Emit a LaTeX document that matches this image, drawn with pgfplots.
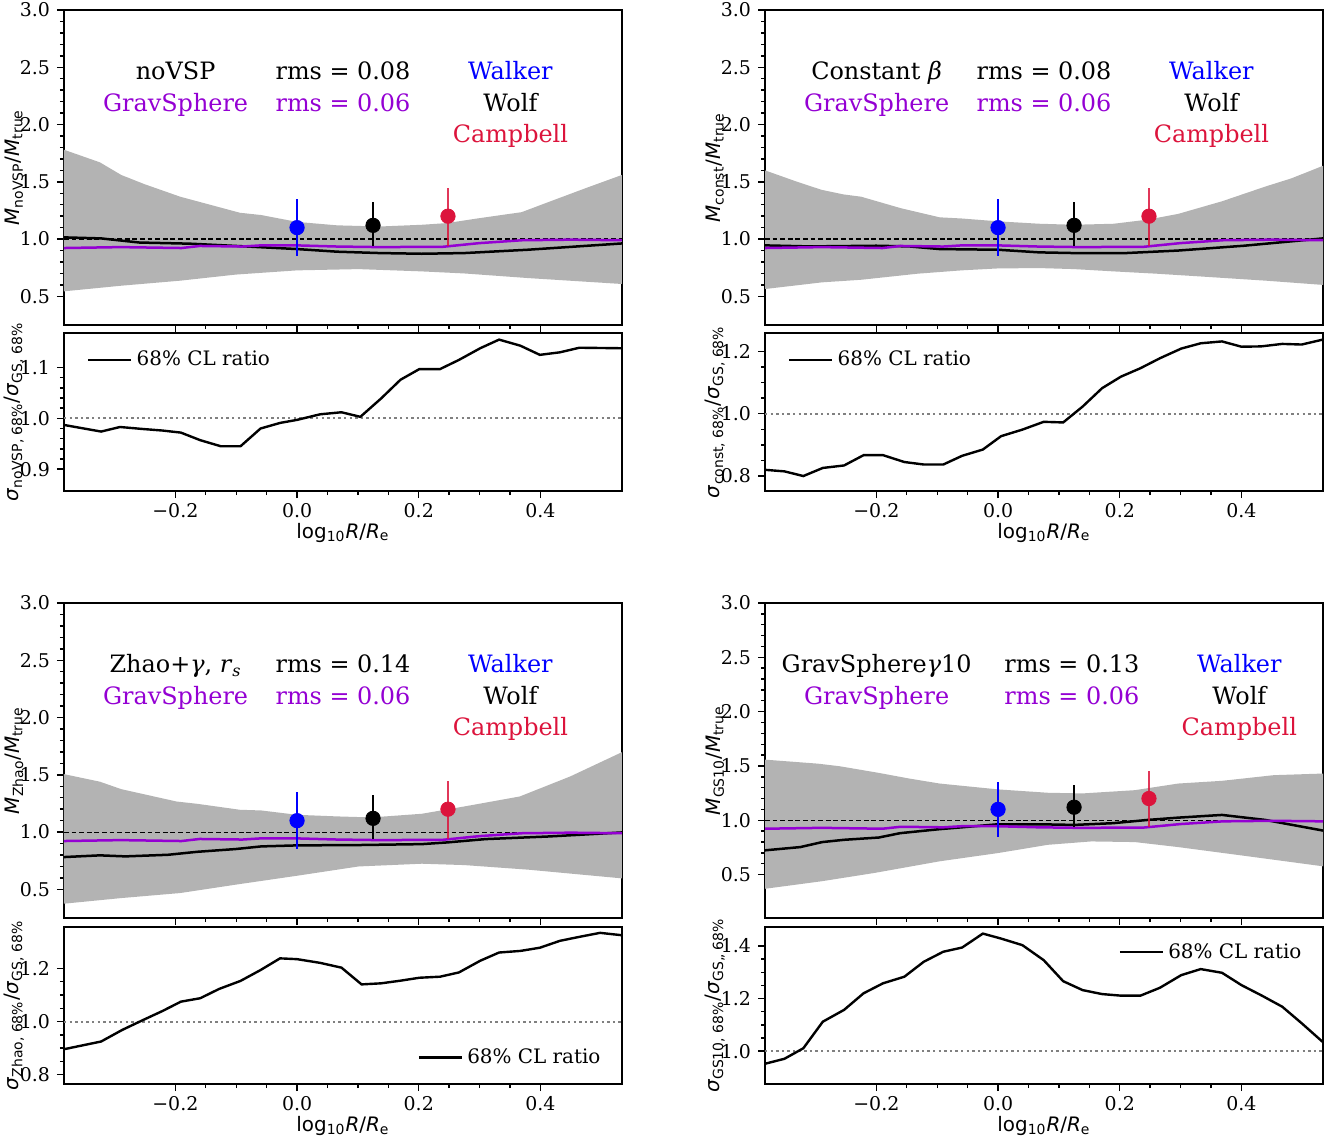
\documentclass[border=0pt]{standalone}
\usepackage{fontspec}
\setmainfont{DejaVu Serif}
\setsansfont{DejaVu Sans}
\usepackage{amsmath}
\usepackage{pgfplots}
\usepackage{pgfplotstable}
\pgfplotsset{compat=1.18}

\definecolor{gsviolet}{RGB}{148,0,211}
\definecolor{crim}{RGB}{220,20,60}
\definecolor{bandgray}{RGB}{179,179,179}
\definecolor{dotgray}{RGB}{128,128,128}

% GravSphere reference curve (same in every panel)
\pgfplotstableread{
x y
-0.383 0.922
-0.29 0.930
-0.19 0.922
-0.16 0.940
-0.09 0.935
-0.06 0.945
0.0 0.945
0.066 0.935
0.136 0.930
0.24 0.933
0.30 0.965
0.37 0.990
0.45 0.995
0.534 0.990
}\gsline

\newcommand{\annofont}{\fontsize{12}{14}\selectfont}
\newcommand{\tickfont}{\fontsize{9.5}{10}\selectfont}
\newcommand{\labfont}{\fontsize{10}{12}\selectfont}
\newcommand{\Msf}{\textsf{\textit{M}}}
\newcommand{\Ssf}{\textsf{\textit{σ}}}

\pgfplotsset{
  panel/.style={
    scale only axis, width=279bp,
    xmin=-0.383, xmax=0.534,
    axis line style={line width=1.3bp},
    tick align=outside, xtick pos=left, ytick pos=left,
    xtick={-0.2,0,0.2,0.4}, minor x tick num=3,
    major tick length=3.5bp, minor tick length=2bp,
    every tick/.append style={black, line width=0.7bp},
    tick label style={font=\tickfont},
    xticklabel style={yshift=1bp},
    label style={font=\labfont},
    ylabel style={at={(rel axis cs:0,0.5)}, anchor=center, yshift=25bp},
  },
  mainax/.style={panel, height=157.5bp,
    ymin=0.25, ymax=3.0,
    ytick={0.5,1,1.5,2,2.5,3}, yticklabels={0.5,1.0,1.5,2.0,2.5,3.0},
    minor y tick num=4, xticklabels={}},
  ratioax/.style={panel, height=79bp,
    xticklabels={−0.2,0.0,0.2,0.4},
    xlabel={\textsf{log}$_{\textsf{10}}$\textsf{\textit{R}/\textit{R}}$_{\textsf{e}}$},
    xlabel style={at={(rel axis cs:0.5,0)}, anchor=base, yshift=-23.5bp},
    legend style={draw=none, fill=none, font=\labfont},
    legend cell align=left,
    legend image code/.code={\draw[black, line width=1.3bp] (0bp,0bp) -- (21.5bp,0bp);}},
}

\newcommand{\refline}{\addplot[black, dashed, line width=0.6bp, dash pattern=on 2.4bp off 1.4bp] coordinates {(-0.383,1) (0.534,1)};}
\newcommand{\gsplot}{\addplot[gsviolet, line width=1.25bp] table[x=x,y=y] {\gsline};}
\newcommand{\errpts}{%
  \addplot[blue, only marks, mark=*, mark size=3.6bp,
    error bars/.cd, y dir=both, y explicit, error mark=none,
    error bar style={line width=1bp, blue}]
    coordinates {(0,1.10) += (0,0.25) -= (0,0.25)};
  \addplot[black, only marks, mark=*, mark size=3.6bp,
    error bars/.cd, y dir=both, y explicit, error mark=none,
    error bar style={line width=1bp, black}]
    coordinates {(0.1249,1.12) += (0,0.20) -= (0,0.18)};
  \addplot[crim, only marks, mark=*, mark size=3.6bp,
    error bars/.cd, y dir=both, y explicit, error mark=none,
    error bar style={line width=1bp, crim, opacity=0.85}]
    coordinates {(0.248,1.20) += (0,0.25) -= (0,0.26)};
}
\newcommand{\ratioref}{\addplot[dotgray, line width=1bp, dash pattern=on 1.2bp off 1.6bp, forget plot] coordinates {(-0.383,1) (0.534,1)};}

\begin{document}
\begin{tikzpicture}
\path[use as bounding box] (0,0) rectangle (668bp,-568.5bp);

%================ top left =================
\begin{axis}[mainax, at={(32bp,-5bp)}, anchor=north west,
  ylabel={$\Msf_{\textsf{noVSP}}\textsf{/}\Msf_{\textsf{true}}$}]
\addplot[fill=bandgray, draw=none] coordinates {
(-0.383,1.78) (-0.324,1.67) (-0.289,1.56) (-0.251,1.48) (-0.192,1.37) (-0.164,1.33)
(-0.094,1.23) (-0.059,1.21) (0,1.15) (0.066,1.12) (0.136,1.11) (0.205,1.125)
(0.247,1.14) (0.296,1.18) (0.369,1.235) (0.414,1.325) (0.477,1.45) (0.534,1.56)
(0.534,0.608) (0.379,0.66) (0.275,0.70) (0.205,0.718) (0.101,0.738) (0,0.727)
(-0.101,0.69) (-0.192,0.637) (-0.289,0.593) (-0.383,0.544)} -- cycle;
\refline
\addplot[black, line width=1.25bp] coordinates {
(-0.383,1.015) (-0.322,1.006) (-0.259,0.97) (-0.176,0.96) (-0.1,0.94) (0,0.913)
(0.066,0.89) (0.136,0.878) (0.205,0.872) (0.275,0.878) (0.379,0.907) (0.534,0.962)};
\gsplot
\errpts
\node[anchor=base, font=\annofont] at (rel axis cs:0.2,0.778) {noVSP};
\node[anchor=base, font=\annofont] at (rel axis cs:0.5,0.778) {rms = 0.08};
\node[anchor=base, font=\annofont, text=blue] at (rel axis cs:0.8,0.778) {Walker};
\node[anchor=base, font=\annofont, text=gsviolet] at (rel axis cs:0.2,0.678) {GravSphere};
\node[anchor=base, font=\annofont, text=gsviolet] at (rel axis cs:0.5,0.678) {rms = 0.06};
\node[anchor=base, font=\annofont] at (rel axis cs:0.8,0.678) {Wolf};
\node[anchor=base, font=\annofont, text=crim] at (rel axis cs:0.8,0.578) {Campbell};
\end{axis}

\begin{axis}[ratioax, at={(32bp,-166.5bp)}, anchor=north west,
  ymin=0.857, ymax=1.168, ytick={0.9,1.0,1.1}, yticklabels={0.9,1.0,1.1}, minor y tick num=4,
  ylabel={$\Ssf_{\textsf{noVSP, 68\%}}\textsf{/}\Ssf_{\textsf{GS, 68\%}}$},
  legend style={at={(0.03,0.83)}, anchor=west}]
\ratioref
\addplot[black, line width=1.2bp] coordinates {
(-0.383,0.987) (-0.322,0.974) (-0.291,0.983) (-0.253,0.979) (-0.221,0.976) (-0.191,0.972)
(-0.159,0.957) (-0.125,0.945) (-0.093,0.945) (-0.060,0.980) (-0.028,0.991) (0.0,0.997)
(0.038,1.008) (0.073,1.012) (0.104,1.003) (0.138,1.039) (0.170,1.076) (0.201,1.097)
(0.235,1.097) (0.266,1.115) (0.301,1.138) (0.332,1.155) (0.367,1.143) (0.399,1.125)
(0.432,1.130) (0.464,1.139) (0.534,1.138)};
\addlegendentry{68\% CL ratio}
\end{axis}

%================ top right =================
\begin{axis}[mainax, at={(382.5bp,-5bp)}, anchor=north west,
  ylabel={$\Msf_{\textsf{const}}\textsf{/}\Msf_{\textsf{true}}$}]
\addplot[fill=bandgray, draw=none] coordinates {
(-0.383,1.60) (-0.33,1.50) (-0.29,1.43) (-0.254,1.39) (-0.225,1.37) (-0.16,1.27)
(-0.096,1.19) (-0.06,1.18) (0,1.155) (0.068,1.134) (0.125,1.125) (0.19,1.134)
(0.246,1.17) (0.296,1.22) (0.368,1.33) (0.44,1.46) (0.482,1.53) (0.534,1.64)
(0.534,0.60) (0.44,0.637) (0.332,0.674) (0.26,0.698) (0.19,0.718) (0.125,0.738)
(0.068,0.747) (0,0.744) (-0.06,0.727) (-0.132,0.698) (-0.225,0.645) (-0.29,0.622)
(-0.383,0.564)} -- cycle;
\refline
\addplot[black, line width=1.25bp] coordinates {
(-0.383,0.945) (-0.31,0.936) (-0.20,0.942) (-0.146,0.936) (-0.096,0.913) (0,0.907)
(0.068,0.884) (0.125,0.878) (0.21,0.878) (0.296,0.90) (0.404,0.942) (0.534,1.006)};
\gsplot
\errpts
\node[anchor=base, font=\annofont] at (rel axis cs:0.2,0.778) {Constant \textit{β}};
\node[anchor=base, font=\annofont] at (rel axis cs:0.5,0.778) {rms = 0.08};
\node[anchor=base, font=\annofont, text=blue] at (rel axis cs:0.8,0.778) {Walker};
\node[anchor=base, font=\annofont, text=gsviolet] at (rel axis cs:0.2,0.678) {GravSphere};
\node[anchor=base, font=\annofont, text=gsviolet] at (rel axis cs:0.5,0.678) {rms = 0.06};
\node[anchor=base, font=\annofont] at (rel axis cs:0.8,0.678) {Wolf};
\node[anchor=base, font=\annofont, text=crim] at (rel axis cs:0.8,0.578) {Campbell};
\end{axis}

\begin{axis}[ratioax, at={(382.5bp,-166.5bp)}, anchor=north west,
  ymin=0.752, ymax=1.259, ytick={0.8,1.0,1.2}, yticklabels={0.8,1.0,1.2}, minor y tick num=3,
  ylabel={$\Ssf_{\textsf{const, 68\%}}\textsf{/}\Ssf_{\textsf{GS, 68\%}}$},
  legend style={at={(0.03,0.83)}, anchor=west}]
\ratioref
\addplot[black, line width=1.2bp] coordinates {
(-0.383,0.820) (-0.351,0.815) (-0.320,0.800) (-0.288,0.826) (-0.253,0.834) (-0.221,0.867)
(-0.189,0.867) (-0.154,0.845) (-0.122,0.837) (-0.090,0.837) (-0.059,0.865) (-0.025,0.885)
(0.005,0.928) (0.040,0.949) (0.075,0.974) (0.107,0.972) (0.139,1.023) (0.171,1.082)
(0.202,1.119) (0.234,1.146) (0.266,1.178) (0.301,1.209) (0.333,1.226) (0.368,1.232)
(0.400,1.215) (0.432,1.216) (0.467,1.224) (0.499,1.222) (0.534,1.238)};
\addlegendentry{68\% CL ratio}
\end{axis}

%================ bottom left =================
\begin{axis}[mainax, at={(32bp,-301.5bp)}, anchor=north west,
  ylabel={$\Msf_{\textsf{Zhao}}\textsf{/}\Msf_{\textsf{true}}$}]
\addplot[fill=bandgray, draw=none] coordinates {
(-0.383,1.506) (-0.324,1.44) (-0.289,1.375) (-0.198,1.267) (-0.164,1.247) (-0.094,1.195)
(-0.059,1.189) (0,1.151) (0.066,1.137) (0.122,1.128) (0.205,1.16) (0.275,1.224)
(0.366,1.311) (0.449,1.486) (0.534,1.698)
(0.534,0.596) (0.38,0.672) (0.275,0.712) (0.205,0.724) (0.101,0.70) (0,0.619)
(-0.101,0.541) (-0.192,0.468) (-0.289,0.424) (-0.383,0.375)} -- cycle;
\refline
\addplot[black, line width=1.25bp] coordinates {
(-0.383,0.782) (-0.324,0.797) (-0.282,0.788) (-0.212,0.802) (-0.164,0.828) (-0.101,0.852)
(-0.059,0.875) (0,0.884) (0.101,0.887) (0.205,0.895) (0.247,0.91) (0.31,0.939)
(0.414,0.962) (0.534,0.997)};
\gsplot
\errpts
\node[anchor=base, font=\annofont] at (rel axis cs:0.2,0.778) {Zhao+\textit{γ}, \textit{r}\textsubscript{\textit{s}}};
\node[anchor=base, font=\annofont] at (rel axis cs:0.5,0.778) {rms = 0.14};
\node[anchor=base, font=\annofont, text=blue] at (rel axis cs:0.8,0.778) {Walker};
\node[anchor=base, font=\annofont, text=gsviolet] at (rel axis cs:0.2,0.678) {GravSphere};
\node[anchor=base, font=\annofont, text=gsviolet] at (rel axis cs:0.5,0.678) {rms = 0.06};
\node[anchor=base, font=\annofont] at (rel axis cs:0.8,0.678) {Wolf};
\node[anchor=base, font=\annofont, text=crim] at (rel axis cs:0.8,0.578) {Campbell};
\end{axis}

\begin{axis}[ratioax, at={(32bp,-463.5bp)}, anchor=north west, height=78.5bp,
  ymin=0.765, ymax=1.356, ytick={0.8,1.0,1.2}, yticklabels={0.8,1.0,1.2}, minor y tick num=3,
  ylabel={$\Ssf_{\textsf{Zhao, 68\%}}\textsf{/}\Ssf_{\textsf{GS, 68\%}}$},
  legend style={at={(0.98,0.17)}, anchor=east}]
\ratioref
\addplot[black, line width=1.2bp] coordinates {
(-0.383,0.896) (-0.322,0.925) (-0.287,0.969) (-0.253,1.006) (-0.221,1.040) (-0.191,1.075)
(-0.159,1.088) (-0.128,1.123) (-0.093,1.153) (-0.060,1.194) (-0.028,1.238) (0.0,1.235)
(0.038,1.221) (0.073,1.203) (0.106,1.140) (0.138,1.144) (0.170,1.154) (0.201,1.165)
(0.235,1.169) (0.266,1.185) (0.301,1.229) (0.332,1.260) (0.367,1.266) (0.399,1.278)
(0.432,1.304) (0.464,1.319) (0.498,1.334) (0.534,1.325)};
\addlegendentry{68\% CL ratio}
\end{axis}

%================ bottom right =================
\begin{axis}[mainax, at={(382.5bp,-301.5bp)}, anchor=north west, ymin=0.1,
  ylabel={$\Msf_{\textsf{GS10}}\textsf{/}\Msf_{\textsf{true}}$}]
\addplot[fill=bandgray, draw=none] coordinates {
(-0.383,1.558) (-0.296,1.521) (-0.26,1.497) (-0.196,1.436) (-0.146,1.384) (-0.096,1.338)
(0,1.284) (0.082,1.253) (0.139,1.247) (0.225,1.277) (0.296,1.338) (0.368,1.363)
(0.453,1.415) (0.534,1.43)
(0.534,0.576) (0.403,0.674) (0.296,0.753) (0.225,0.799) (0.153,0.805) (0.082,0.774)
(0,0.698) (-0.096,0.622) (-0.203,0.515) (-0.289,0.439) (-0.383,0.369)} -- cycle;
\refline
\addplot[black, line width=1.25bp] coordinates {
(-0.383,0.723) (-0.325,0.753) (-0.289,0.799) (-0.253,0.82) (-0.196,0.841) (-0.161,0.881)
(-0.096,0.918) (0,0.963) (0.068,0.963) (0.125,0.957) (0.189,0.973) (0.246,1.003)
(0.296,1.024) (0.368,1.049) (0.439,1.003) (0.534,0.905)};
\gsplot
\errpts
\node[anchor=base, font=\annofont] at (rel axis cs:0.2,0.778) {GravSphere\textit{γ}10};
\node[anchor=base, font=\annofont] at (rel axis cs:0.55,0.778) {rms = 0.13};
\node[anchor=base, font=\annofont, text=blue] at (rel axis cs:0.85,0.778) {Walker};
\node[anchor=base, font=\annofont, text=gsviolet] at (rel axis cs:0.2,0.678) {GravSphere};
\node[anchor=base, font=\annofont, text=gsviolet] at (rel axis cs:0.55,0.678) {rms = 0.06};
\node[anchor=base, font=\annofont] at (rel axis cs:0.85,0.678) {Wolf};
\node[anchor=base, font=\annofont, text=crim] at (rel axis cs:0.85,0.578) {Campbell};
\end{axis}

\begin{axis}[ratioax, at={(382.5bp,-463.5bp)}, anchor=north west, height=78.5bp,
  ymin=0.875, ymax=1.472, ytick={1.0,1.2,1.4}, yticklabels={1.0,1.2,1.4}, minor y tick num=3,
  ylabel={$\Ssf_{\textsf{GS10, 68\%}}\textsf{/}\Ssf_{\textsf{GS,, 68\%}}$},
  legend style={at={(0.98,0.84)}, anchor=east}]
\ratioref
\addplot[black, line width=1.2bp] coordinates {
(-0.383,0.952) (-0.351,0.971) (-0.320,1.011) (-0.288,1.112) (-0.253,1.157) (-0.221,1.220)
(-0.189,1.258) (-0.154,1.283) (-0.122,1.340) (-0.090,1.378) (-0.059,1.394) (-0.025,1.447)
(0.005,1.428) (0.040,1.403) (0.075,1.346) (0.107,1.266) (0.139,1.232) (0.171,1.217)
(0.202,1.211) (0.234,1.211) (0.266,1.241) (0.301,1.289) (0.333,1.312) (0.368,1.298)
(0.400,1.251) (0.432,1.213) (0.467,1.169) (0.499,1.106) (0.534,1.034)};
\addlegendentry{68\% CL ratio}
\end{axis}
\end{tikzpicture}
\end{document}
